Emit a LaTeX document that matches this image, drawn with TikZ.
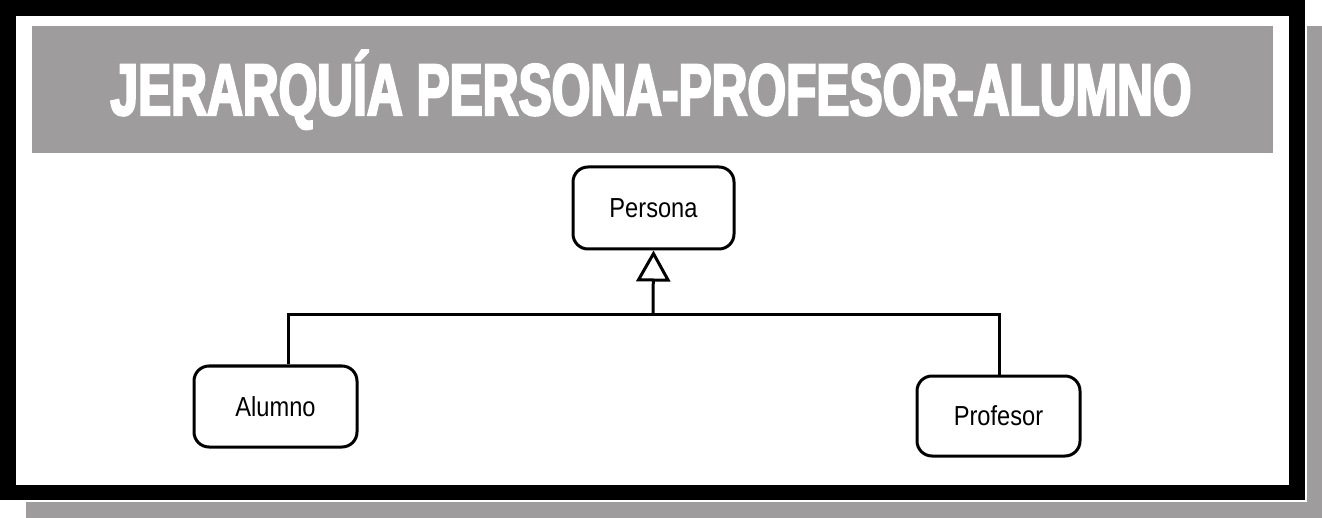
\documentclass[tikz,border=0pt]{standalone}
\usepackage{fontspec}
\setmainfont{Liberation Sans}
\newfontfamily\titlefont[FakeStretch=0.68,FakeBold=3]{Liberation Sans Bold}
\newfontfamily\boxfont[FakeStretch=0.86]{Liberation Sans}
\usetikzlibrary{arrows.meta}
\definecolor{shadowgray}{RGB}{158,156,156}
\tikzset{
  classbox/.style={draw=black, line width=3pt, rounded corners=15pt, fill=white,
    inner sep=0pt, font=\boxfont\fontsize{27.5}{30}\selectfont},
  conn/.style={line width=3pt, draw=black},
}
\begin{document}
\begin{tikzpicture}[x=1pt,y=-1pt]
\useasboundingbox (0,0) rectangle (1322,518);
% shadow and frame
\fill[shadowgray] (26,26) rectangle (1322,518);
\fill[white] (0,0) rectangle (1307,502);
\fill[black] (0,0) rectangle (1305,500);
\fill[white] (16,16) rectangle (1289,485);
% title band
\fill[shadowgray] (32,26) rectangle (1273,153);
\node[anchor=base, text=white, inner sep=0pt, font=\titlefont\fontsize{73}{80}\selectfont] (title) at (651,115) {JERARQUÍA PERSONA-PROFESOR-ALUMNO};
% classes
\node[classbox, minimum width=161pt, minimum height=82pt] (persona) at (653.5,208) {Persona};
\node[classbox, minimum width=163pt, minimum height=81pt] (alumno) at (275.5,406.5) {Alumno};
\node[classbox, minimum width=163pt, minimum height=80pt] (profesor) at (998.5,416) {Profesor};
% connectors
\coordinate (j) at (653,315);
\coordinate (hl) at (288,315);
\coordinate (hr) at (999,315);
\draw[conn] (alumno.north -| hl) -- (hl) -- (hr) -- (profesor.north -| hr);
\draw[conn, -{Triangle[open, length=31pt, width=34pt, fill=white]}] (j) -- (persona.south);
\end{tikzpicture}
\end{document}
